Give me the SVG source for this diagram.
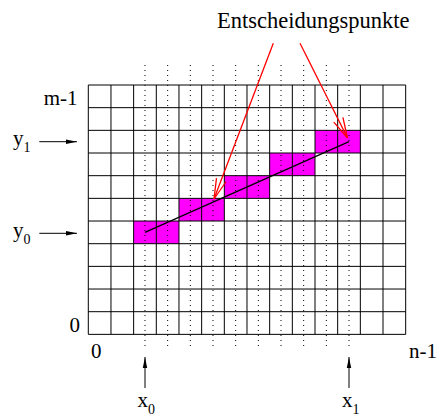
<svg xmlns="http://www.w3.org/2000/svg" width="438" height="415" viewBox="0 0 438 415">
<style>
  .lbl { font-family: "Liberation Serif", "Times New Roman", serif; font-size: 21px; fill: #000; }
  .sub { font-size: 14px; }
  .grid { stroke: #000; stroke-width: 1; fill: none; }
  .dot { stroke: #000; stroke-width: 1; stroke-dasharray: 1 4; fill: none; }
  .pix { fill: #ff00ff; }
  .red { stroke: #ff0000; stroke-width: 1.3; fill: none; }
  .blk { stroke: #000; stroke-width: 1; fill: none; }
</style>
<defs>
  <marker id="redArrow" viewBox="-22 -6 23 12" refX="0" refY="0" markerWidth="23" markerHeight="12" markerUnits="userSpaceOnUse" orient="auto">
    <path d="M-20.4,-5.1 L0,0 L-20.4,5.1" fill="none" stroke="#ff0000" stroke-width="1.3"/>
  </marker>
  <marker id="blkArrow" viewBox="-12 -4 13 8" refX="0" refY="0" markerWidth="13" markerHeight="8" markerUnits="userSpaceOnUse" orient="auto">
    <path d="M-11,-2.2 L0,0 L-11,2.2 Z" fill="#000"/>
  </marker>
</defs>
<rect width="438" height="415" fill="#fff"/>

<g id="pixels">
  <rect class="pix" x="133.64" y="221.02" width="45.34" height="22.67"/>
  <rect class="pix" x="178.98" y="198.35" width="45.34" height="22.67"/>
  <rect class="pix" x="224.32" y="175.68" width="45.34" height="22.67"/>
  <rect class="pix" x="269.66" y="153.01" width="45.34" height="22.67"/>
  <rect class="pix" x="315.0" y="130.34" width="45.34" height="22.67"/>
</g>

<g id="dotted">
  <path class="dot" d="M144.98,65V350 M167.65,65V350 M190.32,65V350 M212.99,65V350 M235.66,65V350 M258.33,65V350 M281.0,65V350 M303.67,65V350 M326.34,65V350 M349.01,65V350"/>
</g>

<g id="grid">
  <path class="grid" d="M88.3,85V334.37 M110.97,85V334.37 M133.64,85V334.37 M156.31,85V334.37 M178.98,85V334.37 M201.65,85V334.37 M224.32,85V334.37 M246.99,85V334.37 M269.66,85V334.37 M292.33,85V334.37 M315.0,85V334.37 M337.67,85V334.37 M360.34,85V334.37 M383.01,85V334.37 M405.68,85V334.37"/>
  <path class="grid" d="M88.3,85H405.68 M88.3,107.67H405.68 M88.3,130.34H405.68 M88.3,153.01H405.68 M88.3,175.68H405.68 M88.3,198.35H405.68 M88.3,221.02H405.68 M88.3,243.69H405.68 M88.3,266.36H405.68 M88.3,289.03H405.68 M88.3,311.7H405.68 M88.3,334.37H405.68"/>
</g>

<g id="line">
  <line x1="144.98" y1="232.35" x2="349.01" y2="141.68" stroke="#000" stroke-width="1.3"/>
</g>

<g id="labels">
  <text id="title" class="lbl" x="217" y="28" style="font-size:22.5px">Entscheidungspunkte</text>
  <text id="m1" class="lbl" x="77.5" y="104.5" text-anchor="end">m-1</text>
  <text id="y1" class="lbl" x="13" y="145">y<tspan class="sub" dy="7">1</tspan></text>
  <text id="y0" class="lbl" x="13" y="237">y<tspan class="sub" dy="7">0</tspan></text>
  <text id="zeroY" class="lbl" x="80" y="331.5" text-anchor="end">0</text>
  <text id="zeroX" class="lbl" x="91" y="357.5">0</text>
  <text id="n1" class="lbl" x="409" y="358">n-1</text>
  <text id="x0" class="lbl" x="137.5" y="406.5">x<tspan class="sub" dy="7">0</tspan></text>
  <text id="x1" class="lbl" x="342" y="406.5">x<tspan class="sub" dy="7">1</tspan></text>
</g>

<g id="connectors">
  <line class="red" x1="273.3" y1="43.3" x2="214" y2="199" marker-end="url(#redArrow)"/>
  <line class="red" x1="300" y1="43.3" x2="347.5" y2="138" marker-end="url(#redArrow)"/>
  <line class="blk" x1="39.3" y1="141.7" x2="77" y2="141.7" marker-end="url(#blkArrow)"/>
  <line class="blk" x1="39.3" y1="233.3" x2="77" y2="233.3" marker-end="url(#blkArrow)"/>
  <line class="blk" x1="145" y1="388" x2="145" y2="357" marker-end="url(#blkArrow)"/>
  <line class="blk" x1="349" y1="388" x2="349" y2="357" marker-end="url(#blkArrow)"/>
</g>
</svg>
